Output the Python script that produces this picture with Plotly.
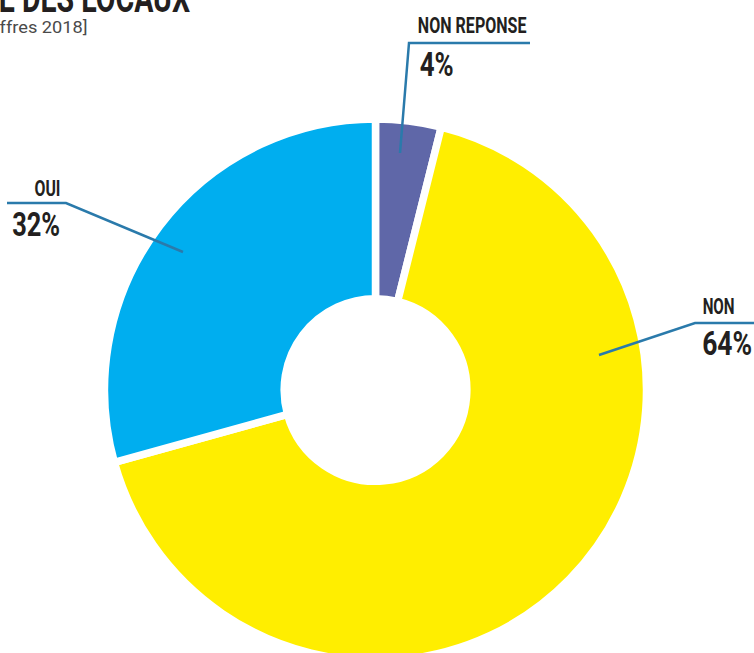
import json
import plotly.graph_objects as go

# ---- data ----
categories = ["NON REPONSE", "NON", "OUI"]
# share of the ring as drawn in the picture (clockwise from 12 o'clock)
drawn_share = [3.9, 66.8, 29.3]
# percentages printed on the labels
label_pct = ["4%", "64%", "32%"]
colors = ["#5F67A8", "#FFEE00", "#00AEEF"]

W, H = 754, 820
CX, CY, R = 375.5, 390.0, 271.0


def px(x):
    return x / W


def py(y):
    return 1 - y / H


fig = go.Figure()
fig.add_trace(go.Pie(
    labels=categories,
    values=drawn_share,
    sort=False,
    direction="clockwise",
    rotation=0,
    hole=0.337,
    marker=dict(colors=colors, line=dict(color="white", width=7.5)),
    textinfo="none",
    hoverinfo="label+percent",
    showlegend=False,
    domain=dict(x=[px(CX - R), px(CX + R)], y=[py(CY + R), py(CY - R)]),
))

LINE = "#2A7AAB"
TXT = "#231F20"
HEAD_FONT = "Roboto, Liberation Sans, sans-serif"

shapes = []


def seg(pts):
    path = "M " + " L ".join(f"{px(x)},{py(y)}" for x, y in pts)
    shapes.append(dict(type="path", path=path, xref="paper", yref="paper",
                       line=dict(color=LINE, width=2.5)))


# leader lines
seg([(530, 43), (409, 43), (400, 153)])
seg([(7, 203), (66, 203), (183, 252)])
seg([(754, 323), (695, 323), (599, 355)])

annotations = []
# target widths (px) of the condensed heading texts, applied after drawing
target_w = {}


def label(text, xc, y, size, width):
    annotations.append(dict(text=f"<b>{text}</b>", x=px(xc), y=py(y), xref="paper", yref="paper",
                            xanchor="center", yanchor="middle", showarrow=False,
                            font=dict(family=HEAD_FONT, size=size, color=TXT)))
    target_w[text] = width


label(categories[0], 472.5, 25, 22.5, 109)
label(label_pct[0], 436, 65, 33, 34)
label(categories[2], 47, 188.5, 22.5, 26)
label(label_pct[2], 36, 224.7, 33, 48)
label(categories[1], 718, 305.5, 22.5, 32)
label(label_pct[1], 727, 344, 33, 50)

TITLE = "ACCESSIBILITÉ DES LOCAUX"
SUBTITLE = "[Chiffres 2018]"
annotations.append(dict(text=f"<b>{TITLE}</b>", x=px(192), y=py(-2),
                        xref="paper", yref="paper", xanchor="right", yanchor="middle",
                        showarrow=False,
                        font=dict(family=HEAD_FONT, size=40, color=TXT)))
annotations.append(dict(text=SUBTITLE, x=px(90), y=py(27),
                        xref="paper", yref="paper", xanchor="right", yanchor="middle",
                        showarrow=False,
                        font=dict(family="Roboto, Liberation Sans, sans-serif", size=16,
                                  color="#4A4A4A")))

fig.update_layout(
    width=W, height=H,
    margin=dict(l=0, r=0, t=0, b=0),
    paper_bgcolor="white",
    plot_bgcolor="white",
    shapes=shapes,
    annotations=annotations,
)

post = """
document.body.style.margin='0';
document.body.style.overflow='hidden';
var TW = %s;
var TITLE = %s;
var SUB = %s;
var kHead = null;
var texts = document.querySelectorAll('text.annotation-text');
function scaleAbout(t, ax, k) {
  t.setAttribute('transform', 'translate(' + ax + ',0) scale(' + k + ',1) translate(' + (-ax) + ',0)');
}
texts.forEach(function(t){
  var s = t.textContent;
  if (TW.hasOwnProperty(s)) {
    var b = t.getBBox();
    var k = TW[s] / b.width;
    if (s === 'NON REPONSE') { kHead = k; }
    scaleAbout(t, b.x + b.width / 2, k);
  }
});
texts.forEach(function(t){
  var s = t.textContent;
  var b;
  if (s === TITLE) {
    b = t.getBBox();
    scaleAbout(t, b.x + b.width, kHead || 0.68);
  } else if (s === SUB) {
    b = t.getBBox();
    scaleAbout(t, b.x + b.width, 1.14);
  }
});
""" % (json.dumps(target_w), json.dumps(TITLE), json.dumps(SUBTITLE))

fig.write_html("out.html", config={"displayModeBar": False}, post_script=post)
